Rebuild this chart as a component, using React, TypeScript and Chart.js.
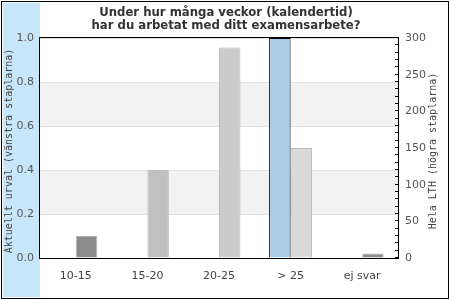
import React, { useEffect, useRef } from "react";
import { Chart, registerables } from "chart.js";

Chart.register(...registerables);

const TITLE_LINES = ["Under hur många veckor (kalendertid)", "har du arbetat med ditt examensarbete?"];
const CATEGORIES = ["10-15", "15-20", "20-25", "> 25", "ej svar"];
const LEFT_LABEL = "Aktuellt urval (vänstra staplarna)";
const RIGHT_LABEL = "Hela LTH (högra staplarna)";
const CURRENT_VALUES = [0, 0, 0, 1.0, 0];
const LTH_VALUES = [30, 120, 287, 150, 6];
const LTH_COLORS = ["#8c8c8c", "#c0c0c0", "#cccccc", "#d9d9d9", "#8c8c8c"];
const LTH_BORDERS = ["#b0b0b0", "#c0c0c0", "#bbbbbb", "#bbbbbb", "#b0b0b0"];
const LEFT_MAX = 1;
const LEFT_STEP = 0.2;
const RIGHT_MAX = 300;
const RIGHT_MINOR_STEP = 10;
const RIGHT_MAJOR_STEP = 50;

const FONT = "'DejaVu Sans', sans-serif";
const MONO = "'DejaVu Sans Mono', monospace";

const decor = {
  id: "decor",
  beforeDraw(chart: any) {
    const { ctx, chartArea: a, scales } = chart;
    ctx.save();
    ctx.fillStyle = "#ffffff";
    ctx.fillRect(0, 0, chart.width, chart.height);
    ctx.fillStyle = "#c8e6fa";
    ctx.fillRect(3, 3, 37, 294);
    ctx.strokeStyle = "#000";
    ctx.lineWidth = 1;
    ctx.strokeRect(1.5, 1.5, 447, 297);
    const y = scales.y;
    ctx.fillStyle = "#f2f2f2";
    [[0.2, 0.4], [0.6, 0.8]].forEach(([lo, hi]) => {
      const top = y.getPixelForValue(hi);
      const bot = y.getPixelForValue(lo);
      ctx.fillRect(a.left, top, a.right - a.left, bot - top);
    });
    ctx.restore();
  },
  afterDatasetsDraw(chart: any) {
    const { ctx, chartArea: a, scales } = chart;
    ctx.save();
    ctx.strokeStyle = "#000";
    ctx.lineWidth = 1;
    ctx.strokeRect(Math.round(a.left) - 0.5, Math.round(a.top) - 0.5, Math.round(a.right - a.left) + 1, Math.round(a.bottom - a.top) + 1);
    const y2 = scales.y2;
    ctx.beginPath();
    y2.ticks.forEach((t: any) => {
      const py = Math.round(y2.getPixelForValue(t.value)) - 0.5;
      ctx.moveTo(a.right - 3, py);
      ctx.lineTo(a.right, py);
    });
    ctx.stroke();
    ctx.restore();
  },
  afterDraw(chart: any) {
    const { ctx, chartArea: a } = chart;
    ctx.save();
    ctx.fillStyle = "#333";
    ctx.font = `bold 11.7px ${FONT}`;
    ctx.textAlign = "center";
    ctx.textBaseline = "middle";
    ctx.fillText(TITLE_LINES[0], 226, 13);
    ctx.fillText(TITLE_LINES[1], 226, 26);
    ctx.fillStyle = "#444";
    ctx.font = `10px ${MONO}`;
    const cy = (a.top + a.bottom) / 2 + 3;
    ctx.translate(9, cy);
    ctx.rotate(-Math.PI / 2);
    ctx.fillText(LEFT_LABEL, 0, 0);
    ctx.restore();
    ctx.save();
    ctx.fillStyle = "#444";
    ctx.font = `10px ${MONO}`;
    ctx.textAlign = "center";
    ctx.textBaseline = "middle";
    ctx.translate(433, cy);
    ctx.rotate(-Math.PI / 2);
    ctx.fillText(RIGHT_LABEL, 0, 0);
    ctx.restore();
  },
};

export default function App() {
  const ref = useRef<HTMLCanvasElement>(null);
  useEffect(() => {
    document.body.style.margin = "0";
    const chart = new Chart(ref.current as HTMLCanvasElement, {
      type: "bar",
      data: {
        labels: CATEGORIES,
        datasets: [
          {
            label: LEFT_LABEL,
            data: CURRENT_VALUES,
            yAxisID: "y",
            backgroundColor: "#abcde8",
            borderColor: "#000000",
            borderWidth: 1,
            categoryPercentage: 0.6,
            barPercentage: 1.0,
          },
          {
            label: RIGHT_LABEL,
            data: LTH_VALUES,
            yAxisID: "y2",
            backgroundColor: LTH_COLORS,
            borderColor: LTH_BORDERS,
            borderWidth: 1,
            categoryPercentage: 0.6,
            barPercentage: 1.0,
          },
        ],
      },
      options: {
        animation: false,
        responsive: false,
        layout: { padding: { top: 38, left: 0, right: 0, bottom: 0 } },
        plugins: { legend: { display: false }, tooltip: { enabled: false }, title: { display: false } },
        scales: {
          x: {
            grid: { display: false },
            border: { display: false },
            ticks: { font: { family: FONT, size: 11 }, color: "#444", padding: 4 },
            afterFit: (s: any) => { s.height = 42; },
          },
          y: {
            position: "left",
            min: 0,
            max: LEFT_MAX,
            ticks: {
              stepSize: LEFT_STEP,
              font: { family: FONT, size: 11 },
              color: "#555",
              padding: 6,
              callback: (v: any) => Number(v).toFixed(1),
            },
            grid: { color: "#e0e0e0", drawTicks: false },
            border: { display: false },
            afterFit: (s: any) => { s.width = 40; },
          },
          y2: {
            position: "right",
            min: 0,
            max: RIGHT_MAX,
            ticks: {
              stepSize: RIGHT_MINOR_STEP,
              autoSkip: false,
              font: { family: FONT, size: 11 },
              color: "#555",
              padding: 7,
              callback: (v: any) => (Number(v) % RIGHT_MAJOR_STEP === 0 ? String(v) : ""),
            },
            grid: { drawOnChartArea: false, drawTicks: false },
            border: { display: false },
            afterFit: (s: any) => { s.width = 52; },
          },
        },
      },
      plugins: [decor],
    });
    return () => chart.destroy();
  }, []);
  return (
    <div style={{ width: 450, height: 300 }}>
      <canvas ref={ref} width={450} height={300} style={{ display: "block" }} />
    </div>
  );
}
